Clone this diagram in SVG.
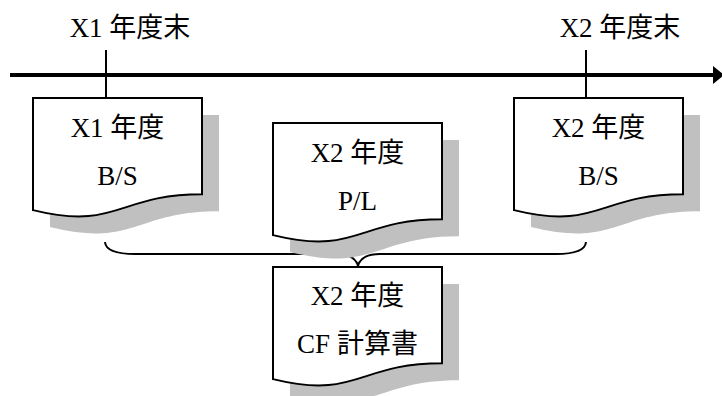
<svg xmlns="http://www.w3.org/2000/svg" width="722" height="396" viewBox="0 0 722 396">
<style>
text{font-family:"Liberation Serif","Noto Sans CJK JP",serif;font-size:27px;fill:#000;text-anchor:middle}
.doc{fill:#fff;stroke:#000;stroke-width:2;stroke-linejoin:miter}
.sh{fill:#c0c0c0;stroke:none}
.ln{fill:none;stroke:#000;stroke-width:2}
</style>
<defs>
<path id="docshape" d="M0,0 H169 V96.2 C84.5,96.2 84.5,132.9 0,112.1 Z"/>
</defs>
<g id="timeline">
<line x1="10" y1="75" x2="714" y2="75" stroke="#000" stroke-width="4"/>
<polygon points="713,66 724,75 713,84" fill="#000"/>
</g>
<g id="connectors">
<line class="ln" x1="106" y1="50" x2="106" y2="98"/>
<line class="ln" x1="586" y1="50" x2="586" y2="98"/>
<path class="ln" d="M105,242 Q106,254 135,254 L336,254 Q355,254 358,266 Q361,254 380,254 L556,254 Q585,254 586,242"/>
</g>
<g id="label-x1"><text x="130" y="37">X1 年度末</text></g>
<g id="label-x2"><text x="620" y="37">X2 年度末</text></g>
<g id="doc-x1-bs">
<use href="#docshape" class="sh" x="50" y="115"/>
<use href="#docshape" class="doc" x="33" y="98"/>
<text x="117.5" y="137">X1 年度</text>
<text x="117.5" y="185">B/S</text>
</g>
<g id="doc-x2-pl">
<use href="#docshape" class="sh" x="290" y="140"/>
<use href="#docshape" class="doc" x="273" y="123"/>
<text x="357.5" y="162">X2 年度</text>
<text x="357.5" y="210">P/L</text>
</g>
<g id="doc-x2-bs">
<use href="#docshape" class="sh" x="531" y="115"/>
<use href="#docshape" class="doc" x="514" y="98"/>
<text x="598.5" y="137">X2 年度</text>
<text x="598.5" y="185">B/S</text>
</g>
<g id="doc-x2-cf">
<use href="#docshape" class="sh" x="290" y="284"/>
<use href="#docshape" class="doc" x="273" y="267"/>
<text x="357.5" y="305">X2 年度</text>
<text x="357.5" y="353">CF 計算書</text>
</g>
</svg>
